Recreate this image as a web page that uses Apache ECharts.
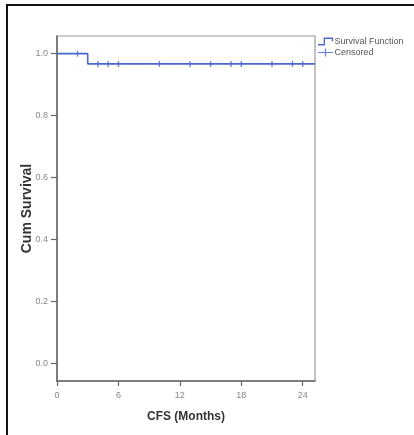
<!DOCTYPE html>
<html>
<head>
<meta charset="utf-8">
<script src="https://cdn.jsdelivr.net/npm/echarts@6/dist/echarts.min.js"></script>
<style>
  html, body { margin: 0; padding: 0; background: #fff; }
  #chart { width: 414px; height: 435px; }
</style>
</head>
<body>
<div id="chart"></div>
<script>
// Kaplan–Meier curve: step times and cumulative survival at each time
const stepTimes = [0, 3, 25.2];
const stepSurvival = [1.0, 0.967, 0.967];

// Censored observations (months) and the survival level they sit on
const censoredTimes = [2, 4, 5, 6, 10, 13, 15, 17, 18, 21, 23, 24];
const censoredSurvival = [1.0, 0.967, 0.967, 0.967, 0.967, 0.967, 0.967, 0.967, 0.967, 0.967, 0.967, 0.967];

// Tick labels
const xTicks = [0, 6, 12, 18, 24];
const yTicks = [0, 0.2, 0.4, 0.6, 0.8, 1.0];

const seriesNames = ['Survival Function', 'Censored'];
const lineColor = '#4a67cc';

const chart = echarts.init(document.getElementById('chart'));

const font = '"Liberation Sans", Arial, sans-serif';

chart.setOption({
  animation: false,
  backgroundColor: '#fff',
  grid: {
    left: 57, top: 36, right: 99, bottom: 54,
    show: true, borderColor: '#9a9a9a', borderWidth: 1.2, backgroundColor: 'transparent'
  },
  legend: {
    orient: 'vertical',
    left: 318, top: 37,
    padding: 0,
    itemGap: 2,
    itemWidth: 16, itemHeight: 8,
    textStyle: { fontFamily: font, fontSize: 9, color: '#555', padding: [0, 0, 0, -4] },
    data: [
      { name: seriesNames[0], icon: 'path://M0,7 L6,7 L6,0 L16,0 L16,4 L14.5,4 L14.5,1.5 L7.5,1.5 L7.5,8.5 L0,8.5 Z' },
      { name: seriesNames[1], icon: 'path://M0,3.6 L7.3,3.6 L7.3,0 L8.7,0 L8.7,3.6 L16,3.6 L16,4.8 L8.7,4.8 L8.7,8.5 L7.3,8.5 L7.3,4.8 L0,4.8 Z' }
    ]
  },
  xAxis: {
    type: 'value',
    min: 0, max: 25.2,
    name: 'CFS (Months)',
    nameLocation: 'middle',
    nameGap: 30,
    nameMoveOverlap: false,
    nameTextStyle: { fontFamily: font, fontSize: 12, fontWeight: 'bold', color: '#333' },
    axisLine: { show: true, onZero: false, lineStyle: { color: '#666', width: 1.5 } },
    axisTick: { show: true, length: 5, lineStyle: { color: '#666', width: 1.2 }, customValues: xTicks },
    axisLabel: { fontFamily: font, fontSize: 9, color: '#888', margin: 10, customValues: xTicks },
    splitLine: { show: false }
  },
  yAxis: {
    type: 'value',
    min: -0.056, max: 1.057,
    name: 'Cum Survival',
    nameLocation: 'middle',
    nameRotate: 90,
    nameGap: 23,
    nameMoveOverlap: false,
    nameTextStyle: { fontFamily: font, fontSize: 14, fontWeight: 'bold', color: '#333' },
    axisLine: { show: true, onZero: false, lineStyle: { color: '#666', width: 1.5 } },
    axisTick: { show: true, length: 6, lineStyle: { color: '#666', width: 1.2 }, customValues: yTicks },
    axisLabel: {
      fontFamily: font, fontSize: 9, color: '#888', margin: 9,
      customValues: yTicks,
      formatter: v => v.toFixed(1)
    },
    splitLine: { show: false }
  },
  series: [
    {
      name: seriesNames[0],
      type: 'line',
      step: 'end',
      data: stepTimes.map((t, i) => [t, stepSurvival[i]]),
      showSymbol: false,
      symbol: 'none',
      lineStyle: { color: lineColor, width: 1.6 },
      itemStyle: { color: lineColor }
    },
    {
      name: seriesNames[1],
      type: 'scatter',
      data: censoredTimes.map((t, i) => [t, censoredSurvival[i]]),
      symbol: 'rect',
      symbolSize: [1.4, 6],
      itemStyle: { color: lineColor }
    }
  ],
  graphic: [
    {
      type: 'rect',
      shape: { x: 7, y: 5, width: 420, height: 450 },
      style: { fill: 'none', stroke: '#111', lineWidth: 2 },
      silent: true
    }
  ]
});
</script>
</body>
</html>
